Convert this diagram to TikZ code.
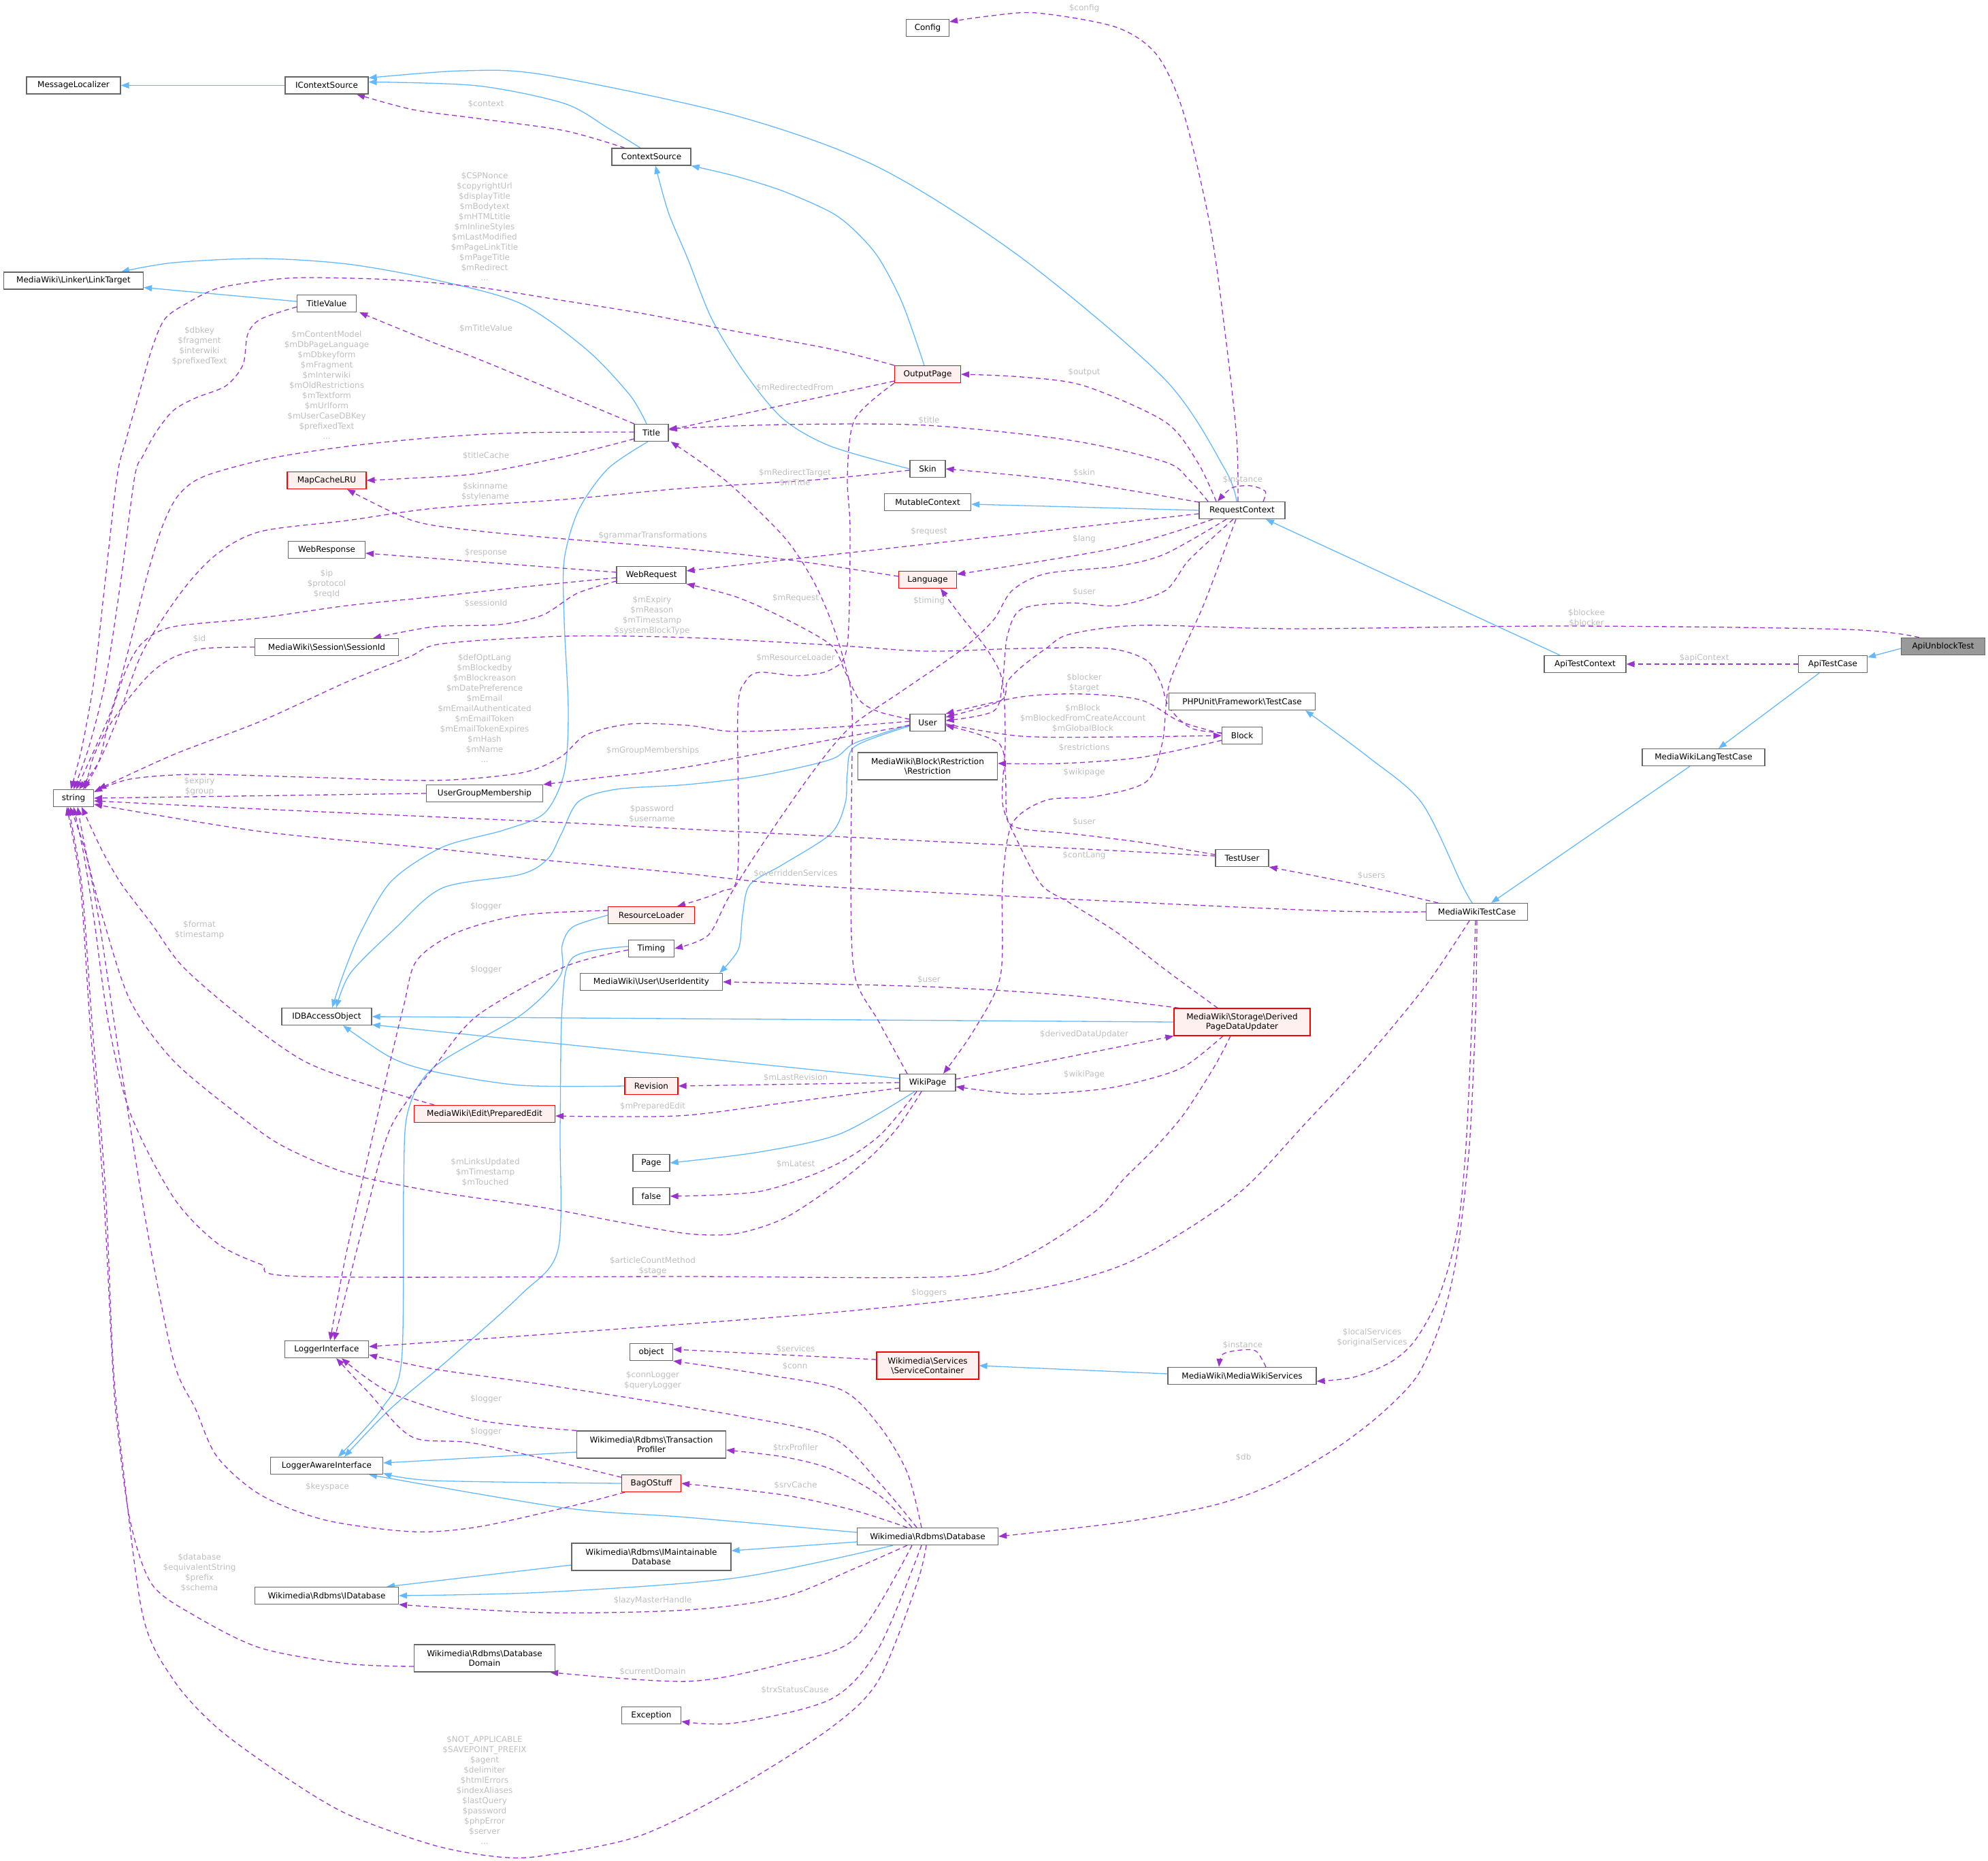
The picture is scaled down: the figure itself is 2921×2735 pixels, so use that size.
\documentclass[tikz,border=0pt]{standalone}
\usepackage{fontspec}
\setmainfont{DejaVu Sans}
\usetikzlibrary{arrows.meta}
\pgfdeclarelayer{bg}
\pgfsetlayers{bg,main}
\definecolor{edgeblue}{HTML}{63B8FF}
\definecolor{edgepurple}{HTML}{9A32CD}
\definecolor{nodeborder}{HTML}{666666}
\definecolor{redborder}{HTML}{FF0000}
\definecolor{redfill}{HTML}{FFF0F0}
\definecolor{labgray}{HTML}{BEBEBE}
\definecolor{mainfill}{HTML}{999999}
\newcommand{\bs}{\textbackslash}
\begin{document}
\begin{tikzpicture}[x=1pt,y=-1pt,
 cls/.style={draw=nodeborder, fill=white, line width=1.2pt, inner xsep=2pt, inner ysep=2pt, minimum height=25pt, minimum width=#1, font=\fontsize{12}{14}\selectfont, align=center},
 clsr/.style={cls=#1, draw=redborder, fill=redfill},
 inh/.style={draw=edgeblue, line width=1.3pt, -{Triangle[length=12pt,width=9pt]}},
 use/.style={draw=edgepurple, line width=1.3pt, dash pattern=on 7pt off 5pt, -{Triangle[length=12pt,width=9pt]}},
 lbl/.style={text=labgray, font=\fontsize{12}{15}\selectfont, align=center, inner sep=0pt},
]
\useasboundingbox (0,0) rectangle (2921,2735);

% ---------- nodes ----------
\node[cls=138] (ML) at (108,125.5) {MessageLocalizer};
\node[cls=122] (ICS) at (480,125.5) {IContextSource};
\node[cls=116] (CS) at (957,230.5) {ContextSource};
\node[cls=63] (Config) at (1363,41) {Config};
\node[cls=205] (LT) at (108,412.5) {MediaWiki\bs Linker\bs LinkTarget};
\node[cls=87] (TV) at (480,446) {TitleValue};
\node[cls=50] (Title) at (957,636) {Title};
\node[clsr=97] (OP) at (1363,550) {OutputPage};
\node[cls=52] (Skin) at (1363,689) {Skin};
\node[clsr=116] (MCL) at (480,706) {MapCacheLRU};
\node[cls=127] (MC) at (1363,738) {MutableContext};
\node[cls=126] (RC) at (1825,750) {RequestContext};
\node[cls=113] (WResp) at (480,808) {WebResponse};
\node[cls=102] (WReq) at (957,845) {WebRequest};
\node[clsr=85] (Lang) at (1363,852) {Language};
\node[cls=211] (SID) at (480,951) {MediaWiki\bs Session\bs SessionId};
\node[cls=123, fill=mainfill] (ApiUT) at (2855,950) {ApiUnblockTest};
\node[cls=120] (ATC) at (2329,976) {ApiTestContext};
\node[cls=101] (ATCase) at (2693,976) {ApiTestCase};
\node[cls=215] (PHPU) at (1825,1031) {PHPUnit\bs Framework\bs TestCase};
\node[cls=52] (User) at (1363,1062) {User};
\node[cls=59] (Block) at (1825,1081) {Block};
\node[cls=180] (MWLTC) at (2503,1113) {MediaWikiLangTestCase};
\node[cls=205, minimum height=40pt] (Restr) at (1363,1126) {MediaWiki\bs Block\bs Restriction\\\bs Restriction};
\node[cls=171] (UGM) at (712,1166) {UserGroupMembership};
\node[cls=59] (string) at (108,1173) {string};
\node[cls=78] (TU) at (1825,1261) {TestUser};
\node[cls=149] (MWTC) at (2170,1340) {MediaWikiTestCase};
\node[clsr=127] (RL) at (957,1345) {ResourceLoader};
\node[cls=67] (Timing) at (957,1394) {Timing};
\node[cls=209] (UI) at (957,1443) {MediaWiki\bs User\bs UserIdentity};
\node[cls=132] (IDB) at (480,1494) {IDBAccessObject};
\node[clsr=200, minimum height=40pt] (DPDU) at (1825,1502) {MediaWiki\bs Storage\bs Derived\\PageDataUpdater};
\node[cls=82] (WP) at (1363,1591) {WikiPage};
\node[clsr=78] (Rev) at (957,1596) {Revision};
\node[clsr=207] (PE) at (712,1637) {MediaWiki\bs Edit\bs PreparedEdit};
\node[cls=54] (Page) at (957,1709) {Page};
\node[cls=54] (False) at (957,1758) {false};
\node[cls=123] (LI) at (480,1983) {LoggerInterface};
\node[cls=63] (Obj) at (957,1987) {object};
\node[clsr=150, minimum height=40pt] (SC) at (1363,2007) {Wikimedia\bs Services\\\bs ServiceContainer};
\node[cls=218] (MWS) at (1825,2022) {MediaWiki\bs MediaWikiServices};
\node[cls=219, minimum height=40pt] (TP) at (957,2123) {Wikimedia\bs Rdbms\bs Transaction\\Profiler};
\node[cls=165] (LAI) at (480,2154) {LoggerAwareInterface};
\node[clsr=87] (Bag) at (957,2180) {BagOStuff};
\node[cls=207] (DB) at (1363,2258) {Wikimedia\bs Rdbms\bs Database};
\node[cls=234, minimum height=40pt] (IMD) at (957,2288) {Wikimedia\bs Rdbms\bs IMaintainable\\Database};
\node[cls=211] (IDBs) at (480,2345) {Wikimedia\bs Rdbms\bs IDatabase};
\node[cls=207, minimum height=40pt] (DD) at (712,2437) {Wikimedia\bs Rdbms\bs Database\\Domain};
\node[cls=87] (Exc) at (957,2521) {Exception};

% ---------- labels ----------
\node[lbl] (l01) at (714,153) {\$context};
\node[lbl] (l02) at (1593,12) {\$config};
\node[lbl] (l03) at (712,333) {\$CSPNonce\\\$copyrightUrl\\\$displayTitle\\\$mBodytext\\\$mHTMLtitle\\\$mInlineStyles\\\$mLastModified\\\$mPageLinkTitle\\\$mPageTitle\\\$mRedirect\\...};
\node[lbl] (l04) at (293,509) {\$dbkey\\\$fragment\\\$interwiki\\\$prefixedText};
\node[lbl] (l05) at (480,566) {\$mContentModel\\\$mDbPageLanguage\\\$mDbkeyform\\\$mFragment\\\$mInterwiki\\\$mOldRestrictions\\\$mTextform\\\$mUrlform\\\$mUserCaseDBKey\\\$prefixedText\\...};
\node[lbl] (l06) at (714,483) {\$mTitleValue};
\node[lbl] (l07) at (714,670) {\$titleCache};
\node[lbl] (l08) at (1593,547) {\$output};
\node[lbl] (l09) at (1168,570) {\$mRedirectedFrom};
\node[lbl] (l10) at (1365,618) {\$title};
\node[lbl] (l11) at (1168,702) {\$mRedirectTarget\\\$mTitle};
\node[lbl] (l12) at (1593,695) {\$skin};
\node[lbl] (l13) at (1826,705) {\$instance};
\node[lbl] (l14) at (713,723) {\$skinname\\\$stylename};
\node[lbl] (l15) at (959,787) {\$grammarTransformations};
\node[lbl] (l16) at (1365,781) {\$request};
\node[lbl] (l17) at (1593,792) {\$lang};
\node[lbl] (l18) at (714,812) {\$response};
\node[lbl] (l19) at (480,858) {\$ip\\\$protocol\\\$reqId};
\node[lbl] (l20) at (714,887) {\$sessionId};
\node[lbl] (l21) at (1169,879) {\$mRequest};
\node[lbl] (l22) at (1365,883) {\$timing};
\node[lbl] (l23) at (1593,870) {\$user};
\node[lbl] (l24) at (958,905) {\$mExpiry\\\$mReason\\\$mTimestamp\\\$systemBlockType};
\node[lbl] (l25) at (2331,908) {\$blockee\\\$blocker};
\node[lbl] (l26) at (293,939) {\$id};
\node[lbl] (l27) at (1169,967) {\$mResourceLoader};
\node[lbl] (l28) at (2504,967) {\$apiContext};
\node[lbl] (l29) at (712,1041) {\$defOptLang\\\$mBlockedby\\\$mBlockreason\\\$mDatePreference\\\$mEmail\\\$mEmailAuthenticated\\\$mEmailToken\\\$mEmailTokenExpires\\\$mHash\\\$mName\\...};
\node[lbl] (l30) at (1593,1004) {\$blocker\\\$target};
\node[lbl] (l31) at (1591,1056) {\$mBlock\\\$mBlockedFromCreateAccount\\\$mGlobalBlock};
\node[lbl] (l32) at (1593,1099) {\$restrictions};
\node[lbl] (l33) at (959,1103) {\$mGroupMemberships};
\node[lbl] (l34) at (1593,1135) {\$wikipage};
\node[lbl] (l35) at (293,1156) {\$expiry\\\$group};
\node[lbl] (l36) at (958,1196) {\$password\\\$username};
\node[lbl] (l37) at (1593,1208) {\$user};
\node[lbl] (l38) at (1593,1257) {\$contLang};
\node[lbl] (l39) at (1169,1284) {\$overriddenServices};
\node[lbl] (l40) at (2015,1287) {\$users};
\node[lbl] (l41) at (714,1332) {\$logger};
\node[lbl] (l42) at (293,1367) {\$format\\\$timestamp};
\node[lbl] (l43) at (714,1425) {\$logger};
\node[lbl] (l44) at (1365,1440) {\$user};
\node[lbl] (l45) at (1593,1520) {\$derivedDataUpdater};
\node[lbl] (l46) at (1593,1579) {\$wikiPage};
\node[lbl] (l47) at (1169,1584) {\$mLastRevision};
\node[lbl] (l48) at (959,1626) {\$mPreparedEdit};
\node[lbl] (l49) at (1169,1711) {\$mLatest};
\node[lbl] (l50) at (713,1723) {\$mLinksUpdated\\\$mTimestamp\\\$mTouched};
\node[lbl] (l51) at (959,1861) {\$articleCountMethod\\\$stage};
\node[lbl] (l52) at (1365,1900) {\$loggers};
\node[lbl] (l53) at (1826,1977) {\$instance};
\node[lbl] (l54) at (2016,1966) {\$localServices\\\$originalServices};
\node[lbl] (l55) at (1169,1983) {\$services};
\node[lbl] (l56) at (1168,2008) {\$conn};
\node[lbl] (l57) at (959,2029) {\$connLogger\\\$queryLogger};
\node[lbl] (l58) at (714,2056) {\$logger};
\node[lbl] (l59) at (714,2104) {\$logger};
\node[lbl] (l60) at (1169,2128) {\$trxProfiler};
\node[lbl] (l61) at (1827,2142) {\$db};
\node[lbl] (l62) at (1169,2183) {\$srvCache};
\node[lbl] (l63) at (481,2185) {\$keyspace};
\node[lbl] (l64) at (293,2311) {\$database\\\$equivalentString\\\$prefix\\\$schema};
\node[lbl] (l65) at (959,2352) {\$lazyMasterHandle};
\node[lbl] (l66) at (959,2457) {\$currentDomain};
\node[lbl] (l67) at (1168,2484) {\$trxStatusCause};
\node[lbl] (l68) at (712,2631) {\$NOT\_APPLICABLE\\\$SAVEPOINT\_PREFIX\\\$agent\\\$delimiter\\\$htmlErrors\\\$indexAliases\\\$lastQuery\\\$password\\\$phpError\\\$server\\...};

\begin{pgfonlayer}{bg}
% ---------- inheritance (blue) ----------
\draw[inh] (ICS.west) -- (ML.east);
\draw[inh] plot[smooth] coordinates {([xshift=-16pt]CS.north) (893,188) (829,152) (701,126) ([yshift=5pt]ICS.east)};
\draw[inh] plot[smooth] coordinates {([xshift=-8pt]RC.north) (1800,690) (1712,558) (1501,379) (1291,246) (1081,170) (800,110) (680,104) ([yshift=11pt]ICS.east)};
\draw[inh] plot[smooth] coordinates {([xshift=-5pt]OP.north) (1326,446) (1291,379) (1256,339) (1221,312) (1151,281) (1081,259) (CS.south east)};
\draw[inh] plot[smooth] coordinates {(Skin.west) (1221,656) (1151,616) (1095,549) (1046,469) (1010,379) (982,312) ([xshift=6pt]CS.south)};
\draw[inh] plot[smooth] coordinates {([xshift=-7pt]Title.north) (925,580) (861,513) (765,446) (638,411) (510,388) (383,380) (255,386) ([xshift=70pt]LT.north)};
\draw[inh] ([yshift=3pt]TV.west) -- ([yshift=-10pt]LT.east);
\draw[inh] plot[smooth] coordinates {([xshift=-5pt]Title.south) (893,689) (850,750) (829,823) (829,913) (835,1046) (829,1136) (800,1195) (740,1220) (650,1245) (575,1295) (530,1370) (505,1430) ([xshift=8pt]IDB.north)};
\draw[inh] plot[smooth] coordinates {([yshift=-3pt]User.west) (1256,1092) (1221,1116) (1116,1140) (1010,1153) (905,1160) (850,1178) (825,1225) (805,1262) (765,1285) (650,1305) (580,1365) (515,1430) ([xshift=14pt]IDB.north)};
\draw[inh] plot[smooth] coordinates {([yshift=-5pt]User.west) (1256,1097) (1245,1136) (1242,1180) (1221,1225) (1151,1270) (1102,1300) (1091,1345) (1085,1395) ([xshift=-5pt]UI.north east)};
\draw[inh] (RC.west) -- ([yshift=-3pt]MC.east);
\draw[inh] ([xshift=-37pt]ATC.north) -- ([xshift=35pt]RC.south);
\draw[inh] ([yshift=-3pt]ApiUT.west) -- ([yshift=10pt]ATCase.east);
\draw[inh] ([xshift=-20pt]ATCase.south) -- ([xshift=22pt]MWLTC.north);
\draw[inh] ([xshift=-20pt]MWLTC.south) -- ([xshift=21pt]MWTC.north);
\draw[inh] plot[smooth] coordinates {([xshift=-7pt]MWTC.north) (2148,1300) (2089,1180) (2011,1113) ([xshift=93pt]PHPU.south)};
\draw[inh] (DPDU.west) -- (IDB.east);
\draw[inh] ([yshift=6pt]WP.west) -- ([yshift=-12pt]IDB.east);
\draw[inh] plot[smooth] coordinates {(Rev.west) (765,1595) (638,1575) (574,1554) ([xshift=24pt]IDB.south)};
\draw[inh] plot[smooth] coordinates {([xshift=-19pt]WP.south) (1235,1666) (1116,1693) (Page.east)};
\draw[inh] plot[smooth] coordinates {(RL.west) (842,1362) (826,1389) (823,1434) (765,1492) (638,1568) (599,1635) (593,1746) (590,2000) (561,2070) ([xshift=17pt]LAI.north)};
\draw[inh] plot[smooth] coordinates {([yshift=3pt]Timing.west) (842,1407) (826,1479) (823,1657) (820,1836) (765,1903) (657,2000) (574,2070) ([xshift=26pt]LAI.north)};
\draw[inh] ([yshift=-11pt]TP.west) -- ([yshift=4pt]LAI.east);
\draw[inh] plot[smooth] coordinates {(Bag.west) (638,2176) ([yshift=-11pt]LAI.east)};
\draw[inh] plot[smooth] coordinates {([yshift=6pt]DB.west) (1010,2230) (829,2216) ([xshift=62pt]LAI.south)};
\draw[inh] ([yshift=-12pt]IMD.west) -- ([xshift=88pt]IDBs.north);
\draw[inh] plot[smooth] coordinates {([xshift=-51pt]DB.south) (1081,2319) (800,2340) (IDBs.east)};
\draw[inh] ([yshift=-8pt]DB.west) -- ([yshift=9pt]IMD.east);
\draw[inh] ([yshift=3pt]MWS.west) -- (SC.east);

% ---------- usage (purple dashed) ----------
\draw[use] plot[smooth] coordinates {([xshift=-39pt]CS.north) (829,192) (701,174) (606,161) ([xshift=44pt]ICS.south)};
\draw[use] plot[smooth] coordinates {([xshift=-6pt]RC.north) (1817,643) (1801,497) (1778,332) (1739,166) (1700,81) (1640,40) (1523,19) (1450,24) ([yshift=9pt]Config.east)};
\draw[use] plot[smooth] coordinates {(OP.north west) (1221,513) (1081,487) (940,460) (829,442) (701,422) (574,411) (446,408) (383,413) (319,424) (274,446) (242,469) (223,513) (204,580) (185,647) (172,700) (155,850) (138,1000) (120,1100) ([xshift=-4pt]string.north)};
\draw[use] plot[smooth] coordinates {([yshift=-5pt]TV.west) (383,469) (364,491) (357,536) (332,567) (287,585) (255,603) (230,634) (210,670) (198,700) (178,850) (155,1000) (130,1100) (string.north)};
\draw[use] plot[smooth] coordinates {([yshift=1pt]Title.west) (765,636) (638,643) (510,656) (395,674) (300,700) (262,728) (238,775) (215,850) (190,950) (165,1040) (135,1110) ([xshift=4pt]string.north)};
\draw[use] plot[smooth] coordinates {([yshift=-9pt]Title.west) (829,671) (701,696) (600,703) (MCL.east)};
\draw[use] plot[smooth] coordinates {([xshift=-25pt]Title.north) (829,580) (701,527) (638,504) ([xshift=4pt]TV.south east)};
\draw[use] plot[smooth] coordinates {([xshift=-38pt]RC.north) (1760,680) (1712,620) (1593,567) (1501,554) (OP.east)};
\draw[use] ([yshift=-10pt]OP.west) -- ([yshift=4pt]Title.east);
\draw[use] plot[smooth] coordinates {([xshift=-50pt]RC.north) (1747,705) (1712,679) (1572,647) (1361,625) (1150,624) ([yshift=6pt]Title.east)};
\draw[use] plot[smooth] coordinates {([xshift=-30pt]WP.north) (1291,1501) (1256,1434) (1250,1300) (1252,1046) (1242,979) (1221,912) (1193,850) (1151,788) (1067,707) ([xshift=3pt]Title.south east)};
\draw[use] plot[smooth] coordinates {([yshift=-2pt]Skin.west) (1200,705) (1000,718) (829,734) (638,747) (510,765) (383,781) (319,814) (268,868) (210,957) (175,1050) (145,1120) ([xshift=8pt]string.north)};
\draw[use] plot[smooth] coordinates {([yshift=12pt]RC.west) (1572,707) (Skin.east)};
\draw[use] ([yshift=-5pt]RC.west) -- ([yshift=6pt]WReq.east);
\draw[use] plot[smooth] coordinates {([xshift=-43pt]RC.south) (1642,805) ([yshift=8pt]Lang.east)};
\draw[use] plot[smooth] coordinates {([yshift=5pt]Lang.west) (1160,823) (1000,806) (829,792) (700,780) (606,765) ([xshift=30pt]MCL.south)};
\draw[use] ([yshift=4pt]WReq.west) -- ([yshift=-5pt]WResp.east);
\draw[use] plot[smooth] coordinates {([yshift=-4pt]WReq.west) (765,863) (638,877) (510,890) (383,908) (255,921) (210,944) (185,985) (160,1060) (145,1120) ([xshift=14pt]string.north)};
\draw[use] plot[smooth] coordinates {([yshift=-9pt]WReq.west) (848,872) (797,904) (733,918) (638,921) ([xshift=68pt]SID.north)};
\draw[use] plot[smooth] coordinates {(SID.west) (300,953) (255,966) (223,988) (191,1024) (159,1069) (137,1113) ([xshift=17pt]string.north)};
\draw[use] plot[smooth] coordinates {([yshift=4pt]Block.west) (1750,1070) (1718,1040) (1705,1002) (1684,970) (1628,953) (1501,953) (1361,957) (1221,948) (1010,937) (829,935) (650,946) (600,966) (510,1002) (383,1060) (255,1109) ([xshift=6pt]string.north east)};
\draw[use] plot[smooth] coordinates {([yshift=2pt]User.west) (1221,1069) (1081,1075) (1010,1066) (926,1064) (861,1080) (823,1113) (765,1136) (638,1147) (446,1142) (287,1138) (191,1145) ([yshift=9pt]string.east)};
\draw[use] plot[smooth] coordinates {([yshift=-4pt]User.west) (1221,1087) (1010,1127) (880,1143) (UGM.north east)};
\draw[use] (UGM.west) -- (string.east);
\draw[use] plot[smooth] coordinates {([yshift=3pt]TU.west) (1501,1243) (1000,1218) (829,1209) (383,1189) ([yshift=-4pt]string.east)};
\draw[use] plot[smooth] coordinates {(MWTC.west) (1934,1338) (1501,1318) (1165,1300) (1000,1283) (800,1264) (638,1247) (383,1222) ([yshift=-9pt]string.east)};
\draw[use] plot[smooth] coordinates {([xshift=-74pt]PE.north) (542,1595) (446,1559) (351,1492) (268,1420) (223,1358) (179,1300) (150,1250) ([xshift=12pt]string.south)};
\draw[use] plot[smooth] coordinates {([xshift=-9pt]WP.south) (1319,1657) (1277,1702) (1221,1746) (1151,1791) (1081,1813) (1010,1813) (905,1795) (800,1775) (638,1751) (510,1724) (415,1684) (351,1639) (255,1559) (191,1470) (150,1345) (128,1260) ([xshift=6pt]string.south)};
\draw[use] plot[smooth] coordinates {([xshift=-17pt]DPDU.south) (1784,1568) (1739,1638) (1695,1689) (1650,1734) (1607,1782) (1501,1849) (1396,1876) (1000,1876) (446,1876) (383,1858) (319,1827) (255,1760) (191,1635) (159,1501) (138,1350) (122,1250) (string.south)};
\draw[use] plot[smooth] coordinates {([xshift=-39pt]Bag.south) (829,2216) (702,2244) (606,2251) (478,2234) (383,2197) (319,2141) (287,2070) (255,2000) (215,1800) (175,1550) (145,1350) (125,1250) ([xshift=-5pt]string.south)};
\draw[use] plot[smooth] coordinates {([yshift=-12pt]DD.west) (510,2445) (383,2422) (287,2375) (223,2328) (191,2234) (172,2094) (165,2000) (152,1750) (132,1500) (118,1300) ([xshift=-10pt]string.south)};
\draw[use] plot[smooth] coordinates {([xshift=-2pt]DB.south) (1347,2328) (1291,2469) (1221,2539) (1081,2628) (940,2698) (800,2727) (733,2729) (638,2712) (510,2666) (415,2609) (319,2539) (255,2469) (210,2375) (179,2141) (166,2000) (155,1750) (135,1500) (120,1300) ([xshift=-8pt]string.south)};
\draw[use] plot[smooth] coordinates {([yshift=3pt]Block.west) (1733,1060) (1677,1029) (1593,1020) (1501,1024) (User.north east)};
\draw[use] plot[smooth] coordinates {([yshift=-2pt]User.east) (1501,1082) (1650,1083) (Block.west)};
\draw[use] plot[smooth] coordinates {([yshift=-7pt]Block.west) (1677,1113) (1560,1122) ([yshift=4pt]Restr.east)};
\draw[use] plot[smooth] coordinates {([yshift=5pt]User.west) (1291,1046) (1263,1029) (1242,988) (1221,948) (1151,908) (1081,877) (WReq.south east)};
\draw[use] plot[smooth] coordinates {([xshift=-13pt]RC.south) (1747,823) (1712,868) (1642,890) (1572,886) (1501,895) (1480,935) (1473,1002) (1460,1045) ([yshift=3pt]User.east)};
\draw[use] plot[smooth] coordinates {([xshift=-23pt]RC.south) (1712,814) (1642,832) (1537,843) (1487,868) (1459,912) (1410,957) (1326,1015) (1249,1069) (1193,1136) (1116,1247) (1070,1320) (1040,1375) (Timing.east)};
\draw[use] plot[smooth] coordinates {([xshift=-9pt]RC.south) (1768,890) (1719,1002) (1708,1091) (1684,1149) (1607,1171) (1537,1176) (1487,1211) (1473,1300) (1470,1434) (1431,1514) ([xshift=23pt]WP.north)};
\draw[use] plot[smooth] coordinates {([xshift=-36pt]DPDU.north) (1712,1425) (1642,1371) (1572,1327) (1530,1300) (1494,1234) (1473,1180) (1477,1091) (1473,1002) (1452,957) (1410,903) ([xshift=19pt]Lang.south)};
\draw[use] plot[smooth] coordinates {([yshift=5pt]TU.west) (1677,1238) (1572,1225) (1501,1218) (1480,1203) (1477,1136) (1466,1091) ([yshift=-4pt]User.east)};
\draw[use] plot[smooth] coordinates {([xshift=-35pt]ApiUT.north) (2712,925) (2300,920) (1900,924) (1677,919) (1572,932) (1537,953) (1501,980) (1480,1002) (1470,1030) ([yshift=8pt]User.east)};
\draw[use] (ATCase.west) -- (ATC.east);
\draw[use] plot[smooth] coordinates {([xshift=-57pt]MWTC.north) (1996,1300) (TU.south east)};
\draw[use] plot[smooth] coordinates {([xshift=-11pt]MWTC.south) (2096,1447) (2007,1555) (1918,1651) (1829,1746) (1739,1810) (1642,1862) (1501,1898) (1221,1929) (800,1961) ([yshift=4pt]LI.east)};
\draw[use] plot[smooth] coordinates {([xshift=-2pt]MWTC.south) (2163,1491) (2154,1683) (2141,1810) (2114,1906) (2079,1970) (2043,2002) (1989,2024) ([yshift=-8pt]MWS.east)};
\draw[use] plot[smooth] coordinates {([xshift=0pt]MWTC.south) (2168,1491) (2159,1683) (2141,1842) (2119,1938) (2083,2021) (2029,2078) (1962,2129) (1873,2180) (1784,2212) (1650,2237) (DB.east)};
\draw[use] plot[smooth] coordinates {([xshift=35pt]MWS.north) (1846,1986) (1824,1984) (1797,1990) ([xshift=-34pt]MWS.north)};
\draw[use] plot[smooth] coordinates {([xshift=31pt]RC.north) (1859,722) (1838,714) (1810,717) ([xshift=-36pt]RC.north)};
\draw[use] ([yshift=9pt]SC.west) -- ([yshift=4pt]Obj.east);
\draw[use] plot[smooth] coordinates {([xshift=-9pt]DB.north) (1333,2164) (1291,2094) (1235,2042) (1116,2019) (Obj.south east)};
\draw[use] plot[smooth] coordinates {([xshift=-16pt]DB.north) (1291,2178) (1221,2112) (1081,2080) (800,2035) (638,2012) ([yshift=-8pt]LI.east)};
\draw[use] plot[smooth] coordinates {([xshift=-23pt]DB.north) (1291,2197) (1221,2159) (1151,2141) ([yshift=-8pt]TP.east)};
\draw[use] plot[smooth] coordinates {([xshift=-30pt]DB.north) (1256,2220) (1151,2197) (Bag.east)};
\draw[use] plot[smooth] coordinates {([xshift=-30pt]DB.south) (1256,2305) (1151,2347) (1010,2366) (800,2370) (IDBs.south east)};
\draw[use] plot[smooth] coordinates {([xshift=-23pt]DB.south) (1256,2408) (1151,2445) (1010,2471) ([xshift=-8pt]DD.south east)};
\draw[use] plot[smooth] coordinates {([xshift=-9pt]DB.south) (1291,2422) (1221,2497) (1081,2532) ([yshift=-9pt]Exc.east)};
\draw[use] plot[smooth] coordinates {(TP.north west) (702,2087) (574,2047) ([xshift=22pt]LI.south)};
\draw[use] plot[smooth] coordinates {([yshift=9pt]Bag.west) (702,2122) (606,2112) (542,2047) ([xshift=14pt]LI.south)};
\draw[use] plot[smooth] coordinates {([yshift=7pt]RL.west) (765,1345) (670,1371) (612,1412) (593,1479) (561,1612) (510,1836) ([xshift=5pt]LI.north)};
\draw[use] plot[smooth] coordinates {([yshift=-2pt]Timing.west) (829,1421) (702,1492) (638,1568) (574,1657) (536,1791) ([xshift=11pt]LI.north)};
\draw[use] (WP.west) -- (Rev.east);
\draw[use] plot[smooth] coordinates {([yshift=-8pt]WP.west) (1151,1621) (1010,1639) (900,1641) ([yshift=-3pt]PE.east)};
\draw[use] plot[smooth] coordinates {([xshift=-16pt]WP.south) (1291,1670) (1221,1715) (1116,1751) (False.east)};
\draw[use] ([yshift=5pt]WP.east) -- (DPDU.south west);
\draw[use] plot[smooth] coordinates {([xshift=-28pt]DPDU.south) (1739,1568) (1672,1590) (1607,1602) (1501,1608) ([yshift=-6pt]WP.east)};
\draw[use] plot[smooth] coordinates {([xshift=8pt]DPDU.north west) (1572,1463) (1361,1450) (UI.east)};
\draw[use] plot[smooth] coordinates {(OP.south west) (1256,616) (1245,700) (1249,779) (1245,948) (1221,984) (1172,993) (1116,988) (1095,1002) (1084,1046) (1084,1280) (1060,1310) ([xshift=38pt]RL.north)};
\end{pgfonlayer}
\end{tikzpicture}
\end{document}
